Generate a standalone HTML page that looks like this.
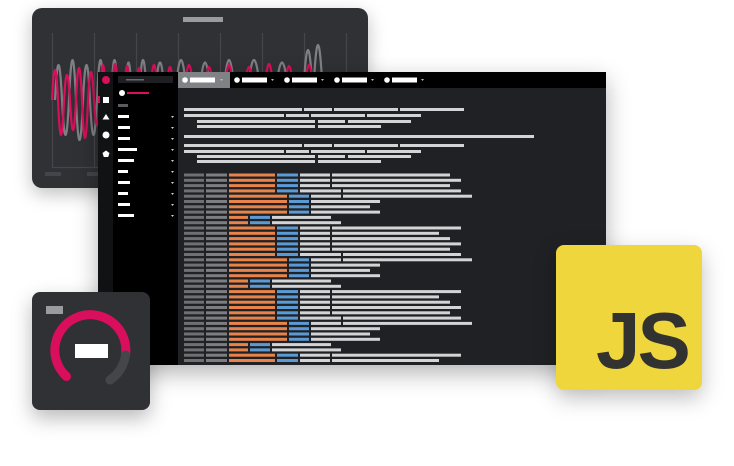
<!DOCTYPE html>
<html><head><meta charset="utf-8"><style>
html,body{margin:0;padding:0;background:#fff;width:734px;height:466px;overflow:hidden;font-family:"Liberation Sans",sans-serif}
.card{position:absolute}
svg{position:absolute;left:0;top:0}
</style></head><body>
<div class="card" style="left:32px;top:8px;width:336px;height:180px;background:#303134;border-radius:10px;box-shadow:0 6px 18px rgba(0,0,0,.25)"></div>
<svg width="734" height="466" viewBox="0 0 734 466">
<defs>
<clipPath id="cc"><rect x="32" y="8" width="336" height="180" rx="10"/></clipPath>
</defs>
<rect x="183" y="17" width="40" height="5" fill="#9a9b9e"/>
<g stroke="#45464a" stroke-width="1.2">
<line x1="52.5" y1="33" x2="52.5" y2="167"/><line x1="94.5" y1="33" x2="94.5" y2="167"/><line x1="136.5" y1="33" x2="136.5" y2="167"/><line x1="178.5" y1="33" x2="178.5" y2="167"/><line x1="220.5" y1="33" x2="220.5" y2="167"/><line x1="262.5" y1="33" x2="262.5" y2="167"/><line x1="304.5" y1="33" x2="304.5" y2="167"/><line x1="346.5" y1="33" x2="346.5" y2="167"/><line x1="52" y1="167.5" x2="346" y2="167.5"/>
</g>
<rect x="45" y="172" width="16" height="4" fill="#44454a"/><rect x="87" y="172" width="16" height="4" fill="#44454a"/>
<g clip-path="url(#cc)" fill="none" stroke-width="2.2">
<path stroke="#7f8084" d="M55,100 Q58.5,30 62,100 Q65.5,170 69,100 Q72.5,20 76,100 Q79.5,180 83,100 Q86.5,30 90,100 Q93.5,170 97,100 Q100.5,20 104,100 Q107.5,170 111,100 Q114.5,20 118,100 Q121.5,160 125,100 Q128.5,25 132,100 Q135.5,160 139,100 Q143,20 147,100 Q151,160 155,100 Q160,25 165,100 Q170,160 175,100 Q181,20 187,100 Q193,160 199,100 Q205,25 211,100 Q217,160 223,100 Q229,20 235,100 Q241,160 247,100 Q254,20 261,100 Q268,160 275,100 Q282,25 289,100 Q296,160 303,100 Q308,0 313,100 Q318,-10 323,100 Q330,160 337,100"/>
<path stroke="#d90e5c" d="M52,100 Q55,40 58,100 Q61,170 64,100 Q67,50 70,100 Q73,160 76,100 Q79,36 82,100 Q85,176 88,100 Q91,44 94,100 Q97,150 100,100 Q103,30 106,100 Q109,160 112,100 Q115,28 118,100 Q121,150 124,100 Q127,32 130,100 Q133,140 136,100 Q139,36 142,100 Q146,140 150,100 Q154,30 158,100 Q162,140 166,100 Q170,34 174,100 Q179,140 184,100 Q189,30 194,100 Q199,140 204,100 Q209,34 214,100 Q219,140 224,100 Q229,30 234,100 Q239,140 244,100 Q249,34 254,100 Q259,140 264,100 Q269,28 274,100 Q279,140 284,100 Q289,32 294,100 Q299,140 304,100 Q309,30 314,100 Q319,140 324,100"/>
</g>
</svg>
<div class="card" style="left:98px;top:72px;width:508px;height:293px;background:#202124;box-shadow:0 8px 22px rgba(0,0,0,.3)"></div>
<svg width="734" height="466" viewBox="0 0 734 466">
<defs>
<g id="Ap"><rect x="184" width="20" height="3" fill="#6f7073"/><rect x="206" width="21" height="3" fill="#7d7e81"/><rect x="229" width="46" height="3" fill="#e8834a"/><rect x="277" width="21" height="3" fill="#5b9bd5"/></g>
<g id="A"><use href="#Ap"/><rect x="300" width="30" height="3" fill="#d3d4d6"/></g>
<g id="B"><rect x="184" width="20" height="3" fill="#6f7073"/><rect x="206" width="21" height="3" fill="#7d7e81"/><rect x="229" width="58" height="3" fill="#e8834a"/><rect x="289" width="20" height="3" fill="#5b9bd5"/></g>
<g id="C"><rect x="184" width="20" height="3" fill="#6f7073"/><rect x="206" width="21" height="3" fill="#7d7e81"/><rect x="229" width="19" height="3" fill="#e8834a"/><rect x="250" width="20" height="3" fill="#5b9bd5"/></g>
</defs>
<rect x="98" y="72" width="508" height="16" fill="#000"/>
<rect x="98" y="72" width="15" height="293" fill="#111214"/>
<rect x="113" y="88" width="65" height="277" fill="#000"/>
<rect x="113" y="72" width="65" height="16" fill="#000"/>
<rect x="118" y="76" width="55" height="7" fill="#1e1f22"/><rect x="126" y="79" width="18" height="1.5" fill="#6a6b6e"/>
<rect x="178" y="72" width="52" height="16" fill="#808285"/>
<g fill="#fff">
<circle cx="185" cy="80" r="2.8"/><rect x="190" y="77.5" width="25" height="5"/>
<circle cx="237" cy="80" r="2.8"/><rect x="242" y="77.5" width="25" height="5"/>
<circle cx="287" cy="80" r="2.8"/><rect x="292" y="77.5" width="25" height="5"/>
<circle cx="337" cy="80" r="2.8"/><rect x="342" y="77.5" width="25" height="5"/>
<circle cx="387" cy="80" r="2.8"/><rect x="392" y="77.5" width="25" height="5"/>
</g>
<g fill="#bbb"><path d="M220,79h3l-1.5,2z"/><path d="M271,79h3l-1.5,2z"/><path d="M321,79h3l-1.5,2z"/><path d="M371,79h3l-1.5,2z"/><path d="M421,79h3l-1.5,2z"/></g>
<circle cx="106" cy="80" r="4" fill="#d90e5c"/>
<rect x="98" y="96" width="2" height="7" fill="#d90e5c"/>
<rect x="103" y="97" width="6" height="6" fill="#fff"/>
<path d="M106,114 l3.5,5.5 h-7z" fill="#fff"/>
<circle cx="106" cy="135" r="3.5" fill="#fff"/>
<path d="M106,150.5 l3.5,2.5 -1.3,4 h-4.4 l-1.3,-4z" fill="#fff"/>
<circle cx="122" cy="93" r="3" fill="#fff"/><rect x="127" y="92" width="22" height="2" fill="#d90e5c"/>
<rect x="118" y="104" width="10" height="3" fill="#5b5c60"/>
<g fill="#fff">
<rect x="118" y="115" width="11" height="3"/><rect x="118" y="126" width="12" height="3"/><rect x="118" y="137" width="12" height="3"/><rect x="118" y="148" width="19" height="3"/><rect x="118" y="159" width="16" height="3"/><rect x="118" y="170" width="10" height="3"/><rect x="118" y="181" width="12" height="3"/><rect x="118" y="192" width="10" height="3"/><rect x="118" y="203" width="12" height="3"/><rect x="118" y="214" width="16" height="3"/>
</g>
<g fill="#ccc"><path d="M171,116h3l-1.5,2z"/><path d="M171,127h3l-1.5,2z"/><path d="M171,138h3l-1.5,2z"/><path d="M171,149h3l-1.5,2z"/><path d="M171,160h3l-1.5,2z"/><path d="M171,171h3l-1.5,2z"/><path d="M171,182h3l-1.5,2z"/><path d="M171,193h3l-1.5,2z"/><path d="M171,204h3l-1.5,2z"/><path d="M171,215h3l-1.5,2z"/></g>
<g fill="#d3d4d6">
<rect x="184" y="108" width="118" height="3"/><rect x="304" y="108" width="28" height="3"/><rect x="334" y="108" width="64" height="3"/><rect x="400" y="108" width="64" height="3"/>
<rect x="184" y="114" width="100" height="3"/><rect x="286" y="114" width="23" height="3"/><rect x="311" y="114" width="54" height="3"/><rect x="367" y="114" width="54" height="3"/>
<rect x="197" y="120" width="118" height="3"/><rect x="318" y="120" width="27" height="3"/><rect x="348" y="120" width="63" height="3"/>
<rect x="197" y="125" width="118" height="3"/><rect x="318" y="125" width="63" height="3"/>
<rect x="184" y="135" width="350" height="3"/>
<rect x="184" y="144" width="118" height="3"/><rect x="304" y="144" width="28" height="3"/><rect x="334" y="144" width="64" height="3"/><rect x="400" y="144" width="64" height="3"/>
<rect x="184" y="150" width="100" height="3"/><rect x="286" y="150" width="23" height="3"/><rect x="311" y="150" width="54" height="3"/><rect x="367" y="150" width="54" height="3"/>
<rect x="197" y="155" width="118" height="3"/><rect x="318" y="155" width="27" height="3"/><rect x="348" y="155" width="63" height="3"/>
<rect x="197" y="160" width="118" height="3"/><rect x="318" y="160" width="63" height="3"/>
</g>
<g fill="#d3d4d6">
<use href="#A" y="173.5"/><rect x="332" y="173.5" width="118" height="3"/>
<use href="#A" y="178.8"/><rect x="332" y="178.8" width="129" height="3"/>
<use href="#A" y="184.1"/><rect x="332" y="184.1" width="118" height="3"/>
<use href="#Ap" y="189.4"/><rect x="300" y="189.4" width="41" height="3"/><rect x="343" y="189.4" width="118" height="3"/>
<use href="#B" y="194.7"/><rect x="311" y="194.7" width="30" height="3"/><rect x="343" y="194.7" width="129" height="3"/>
<use href="#B" y="200"/><rect x="311" y="200" width="69" height="3"/>
<use href="#B" y="205.3"/><rect x="311" y="205.3" width="59" height="3"/>
<use href="#B" y="210.6"/><rect x="311" y="210.6" width="69" height="3"/>
<use href="#C" y="215.9"/><rect x="272" y="215.9" width="59" height="3"/>
<use href="#C" y="221.2"/><rect x="272" y="221.2" width="69" height="3"/>
<use href="#A" y="226.5"/><rect x="332" y="226.5" width="129" height="3"/>
<use href="#A" y="231.8"/><rect x="332" y="231.8" width="107" height="3"/>
<use href="#A" y="237.1"/><rect x="332" y="237.1" width="118" height="3"/>
<use href="#A" y="242.4"/><rect x="332" y="242.4" width="129" height="3"/>
<use href="#A" y="247.7"/><rect x="332" y="247.7" width="118" height="3"/>
<use href="#Ap" y="253"/><rect x="300" y="253" width="41" height="3"/><rect x="343" y="253" width="118" height="3"/>
<use href="#B" y="258.3"/><rect x="311" y="258.3" width="30" height="3"/><rect x="343" y="258.3" width="129" height="3"/>
<use href="#B" y="263.6"/><rect x="311" y="263.6" width="69" height="3"/>
<use href="#B" y="268.9"/><rect x="311" y="268.9" width="59" height="3"/>
<use href="#B" y="274.2"/><rect x="311" y="274.2" width="69" height="3"/>
<use href="#C" y="279.5"/><rect x="272" y="279.5" width="59" height="3"/>
<use href="#C" y="284.8"/><rect x="272" y="284.8" width="69" height="3"/>
<use href="#A" y="290.1"/><rect x="332" y="290.1" width="129" height="3"/>
<use href="#A" y="295.4"/><rect x="332" y="295.4" width="107" height="3"/>
<use href="#A" y="300.7"/><rect x="332" y="300.7" width="118" height="3"/>
<use href="#A" y="306"/><rect x="332" y="306" width="129" height="3"/>
<use href="#A" y="311.3"/><rect x="332" y="311.3" width="118" height="3"/>
<use href="#Ap" y="316.6"/><rect x="300" y="316.6" width="41" height="3"/><rect x="343" y="316.6" width="118" height="3"/>
<use href="#B" y="321.9"/><rect x="311" y="321.9" width="30" height="3"/><rect x="343" y="321.9" width="129" height="3"/>
<use href="#B" y="327.2"/><rect x="311" y="327.2" width="69" height="3"/>
<use href="#B" y="332.5"/><rect x="311" y="332.5" width="59" height="3"/>
<use href="#B" y="337.8"/><rect x="311" y="337.8" width="69" height="3"/>
<use href="#C" y="343.1"/><rect x="272" y="343.1" width="59" height="3"/>
<use href="#C" y="348.4"/><rect x="272" y="348.4" width="69" height="3"/>
<use href="#A" y="353.7"/><rect x="332" y="353.7" width="129" height="3"/>
<use href="#A" y="359"/><rect x="332" y="359" width="107" height="3"/>
</g>
</svg>
<div class="card" style="left:32px;top:292px;width:118px;height:118px;background:#303134;border-radius:8px;box-shadow:0 8px 20px rgba(0,0,0,.28)"></div>
<svg width="734" height="466" viewBox="0 0 734 466">
<rect x="46" y="306" width="17" height="8" fill="#9a9b9e"/>
<path d="M66.5,376.5 A35.5,35.5 0 1 1 125.5,355" fill="none" stroke="#d90e5c" stroke-width="9" stroke-linecap="round"/>
<path d="M125.5,355 A35.5,35.5 0 0 1 110,380" fill="none" stroke="#45464a" stroke-width="9" stroke-linecap="round"/>
<rect x="75" y="344" width="33" height="14" fill="#fff"/>
</svg>
<div class="card" style="left:556px;top:245px;width:146px;height:145px;background:#efd63c;border-radius:8px;box-shadow:0 8px 22px rgba(0,0,0,.25)">
<div style="position:absolute;left:40px;top:56px;font-family:'Liberation Sans',sans-serif;font-weight:bold;font-size:80px;line-height:80px;color:#323330;letter-spacing:-3px">JS</div>
</div>
</body></html>
